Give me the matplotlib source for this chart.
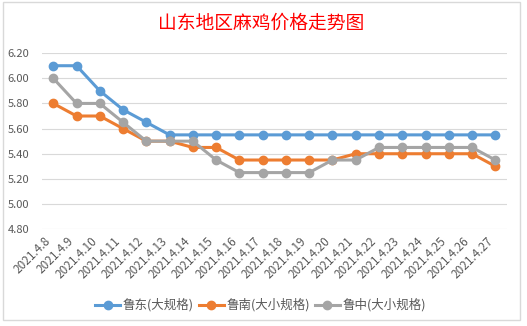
import matplotlib
matplotlib.use("Agg")
import matplotlib.pyplot as plt
import matplotlib.transforms as mtransforms
from matplotlib.patches import Rectangle

plt.rcParams['font.family'] = ['Noto Sans CJK SC', 'DejaVu Sans']

# data
dates = ["2021.4.8", "2021.4.9", "2021.4.10", "2021.4.11", "2021.4.12",
         "2021.4.13", "2021.4.14", "2021.4.15", "2021.4.16", "2021.4.17",
         "2021.4.18", "2021.4.19", "2021.4.20", "2021.4.21", "2021.4.22",
         "2021.4.23", "2021.4.24", "2021.4.25", "2021.4.26", "2021.4.27"]

ludong = [6.10, 6.10, 5.90, 5.75, 5.65, 5.55, 5.55, 5.55, 5.55, 5.55,
          5.55, 5.55, 5.55, 5.55, 5.55, 5.55, 5.55, 5.55, 5.55, 5.55]
lunan = [5.80, 5.70, 5.70, 5.60, 5.50, 5.50, 5.45, 5.45, 5.35, 5.35,
         5.35, 5.35, 5.35, 5.40, 5.40, 5.40, 5.40, 5.40, 5.40, 5.30]
luzhong = [6.00, 5.80, 5.80, 5.65, 5.50, 5.50, 5.50, 5.35, 5.25, 5.25,
           5.25, 5.25, 5.35, 5.35, 5.45, 5.45, 5.45, 5.45, 5.45, 5.35]

names = ["鲁东(大规格)", "鲁南(大小规格)", "鲁中(大小规格)"]
colors = ["#5B9BD5", "#ED7D31", "#A5A5A5"]
yticks = [4.80, 5.00, 5.20, 5.40, 5.60, 5.80, 6.00, 6.20]

fig = plt.figure(figsize=(5.27, 3.26), dpi=100)
ax = fig.add_axes([0.079, 0.297, 0.883, 0.54])

x = list(range(len(dates)))
for vals, name, c in zip([ludong, lunan, luzhong], names, colors):
    ax.plot(x, vals, color=c, lw=2.2, marker="o", markersize=6, label=name)

ax.set_xlim(-0.5, len(dates) - 0.5)
ax.set_ylim(4.80, 6.20)
ax.set_yticks(yticks)
ax.set_yticklabels(["%.2f" % v for v in yticks])
ax.set_xticks(x)
ax.set_xticklabels(dates, rotation=45, ha="right", va="top", fontsize=8.5)

# push the date labels a bit right so they end just past each point
offset = mtransforms.ScaledTranslation(6 / 100, -2 / 100, fig.dpi_scale_trans)
for lab in ax.get_xticklabels():
    lab.set_transform(lab.get_transform() + offset)

ax.grid(axis="y", color="#D9D9D9", lw=0.8)
ax.set_axisbelow(True)
for s in ax.spines.values():
    s.set_visible(False)
ax.tick_params(axis="both", length=0, colors="#595959")
ax.tick_params(axis="y", pad=9, labelsize=8)
ax.tick_params(axis="x", pad=4)

fig.text(0.495, 0.929, "山东地区麻鸡价格走势图", color="#FF0000",
         fontsize=13.5, ha="center", va="center")

fig.legend(loc="center", bbox_to_anchor=(0.494, 0.064), ncol=3, frameon=False,
           fontsize=9, handlelength=2.0, columnspacing=0.4, handletextpad=0.2,
           labelcolor="#595959")

# chart area border
fig.patches.append(Rectangle((0.006, 0.018), 0.981, 0.975, transform=fig.transFigure,
                             fill=False, edgecolor="#D9D9D9", lw=1))

fig.savefig("out.png", dpi=100)
